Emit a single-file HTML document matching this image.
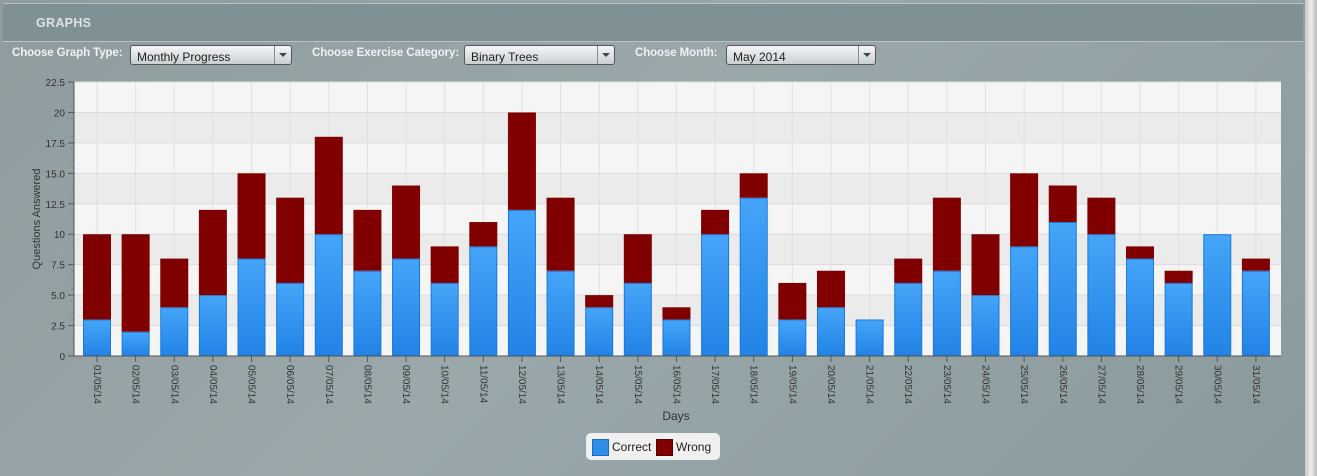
<!DOCTYPE html>
<html><head><meta charset="utf-8"><style>
body{margin:0;width:1317px;height:476px;overflow:hidden;background:linear-gradient(135deg,#8e9c9f 0%,#9aa8ab 45%,#8a9a9c 100%);font-family:"Liberation Sans",sans-serif;position:relative}
.hdr{position:absolute;left:3px;top:3px;width:1300px;height:37px;background:#7f9194;border-top:1px solid #b5c2c4;border-bottom:1px solid #b5c2c4}
.hdr span{position:absolute;left:33px;top:12px;color:#dde3e4;font-weight:bold;font-size:12.5px;letter-spacing:0.3px}
.lbl{position:absolute;top:47px;color:#eef3f4;font-weight:bold;font-size:11.5px;letter-spacing:-0.1px}
.cb{position:absolute;top:45px;height:20px;border:1px solid #555;border-radius:3px;background:linear-gradient(#f4f6f7,#c8d0d2);font-size:12px;box-sizing:border-box;padding:4px 0 0 6px;color:#222}
.cb i{position:absolute;right:0;top:0;width:16px;height:18px;border-left:1px solid #888;font-style:normal}
.cb i:after{content:"";position:absolute;left:4px;top:7px;border:4px solid transparent;border-top:4px solid #444}
.sb{position:absolute;left:1305px;top:0;width:12px;height:476px;background:linear-gradient(90deg,#c8c8c8,#eee,#bbb)}
.lg{position:absolute;left:586px;top:433px;width:134px;height:27px;background:#f0f0f0;border-radius:5px}
</style></head><body>
<div class="hdr"><span>GRAPHS</span></div>
<div class="lbl" style="left:12px">Choose Graph Type:</div>
<div class="cb" style="left:130px;width:162px">Monthly Progress<i></i></div>
<div class="lbl" style="left:312px">Choose Exercise Category:</div>
<div class="cb" style="left:464px;width:151px">Binary Trees<i></i></div>
<div class="lbl" style="left:635px">Choose Month:</div>
<div class="cb" style="left:726px;width:150px">May 2014<i></i></div>
<div class="sb"></div>
<svg id="ch" width="1317" height="476" style="position:absolute;left:0;top:0"></svg>
<div class="lg">
<div style="position:absolute;left:6px;top:6px;width:15px;height:15px;background:#2f8ee8;border:1px solid #1a6bc0"></div>
<div style="position:absolute;left:26px;top:7px;font-size:12px;color:#222">Correct</div>
<div style="position:absolute;left:70px;top:6px;width:15px;height:15px;background:#800000;border:1px solid #500"></div>
<div style="position:absolute;left:90px;top:7px;font-size:12px;color:#222">Wrong</div>
</div>
<script>
const days=[];for(let i=1;i<=31;i++)days.push(String(i).padStart(2,'0')+'/05/14');
const correct=[3,2,4,5,8,6,10,7,8,6,9,12,7,4,6,3,10,13,3,4,3,6,7,5,9,11,10,8,6,10,7];
const wrong=[7,8,4,7,7,7,8,5,6,3,2,8,6,1,4,1,2,2,3,3,0,2,6,5,6,3,3,1,1,0,1];
const yTicks=['0','2.5','5.0','7.5','10','12.5','15.0','17.5','20','22.5'];
const NS='http://www.w3.org/2000/svg',svg=document.getElementById('ch');
const L=74,R=1281,T=82,B=356,yMax=22.5,step=38.63,c0=97,bw=28;
const y=v=>B-(v/yMax)*(B-T), x=i=>c0+i*step;
function mk(t,a,p){const e=document.createElementNS(NS,t);for(const k in a)e.setAttribute(k,a[k]);(p||svg).appendChild(e);return e;}
for(let k=0;k<9;k++){const r=mk('rect',{x:L,y:y((k+1)*2.5),width:R-L,height:y(k*2.5)-y((k+1)*2.5),fill:k%2?'#ebebeb':'#f5f5f5'});
}
yTicks.forEach((t,k)=>{const v=k*2.5;
const g=mk('line',{x1:L,x2:R,y1:y(v),y2:y(v),stroke:'#dcdcdc'});
const tk=mk('line',{x1:L-6,x2:L,y1:y(v),y2:y(v),stroke:'#555'});
const tx=mk('text',{x:L-9,y:y(v)+4,'text-anchor':'end','font-size':10,fill:'#333'});tx.textContent=t;
if(k<9)for(let m=1;m<5;m++){const mv=v+m*0.5;const ml=mk('line',{x1:L-3,x2:L,y1:y(mv),y2:y(mv),stroke:'#888'});}
});
days.forEach((d,i)=>{const g=mk('line',{x1:x(i),x2:x(i),y1:T,y2:B,stroke:'#e0e0e0'});});
const defs=mk('defs',{});const gr=mk('linearGradient',{id:'bl',x1:0,y1:0,x2:0,y2:1},defs);
mk('stop',{offset:0,'stop-color':'#45a5f8'},gr);mk('stop',{offset:1,'stop-color':'#2283e6'},gr);
days.forEach((d,i)=>{
const c=mk('rect',{x:x(i)-bw/2+0.5,y:y(correct[i])+0.5,width:bw-1,height:y(0)-y(correct[i])-1,fill:'url(#bl)',stroke:'#1a78e0'});

if(wrong[i]>0){const w=mk('rect',{x:x(i)-bw/2,y:y(correct[i]+wrong[i]),width:bw,height:y(correct[i])-y(correct[i]+wrong[i]),fill:'#800000'});
}
const tk=mk('line',{x1:x(i),x2:x(i),y1:B,y2:B+6,stroke:'#555'});
const tx=mk('text',{x:0,y:0,'font-size':10,fill:'#333',transform:`translate(${x(i)-3},${B+9}) rotate(90)`});tx.textContent=d;

});
const ax=mk('path',{d:`M${L},${T}V${B}H${R}`,stroke:'#555',fill:'none'});
const xt=mk('text',{x:676,y:420,'text-anchor':'middle','font-size':12,fill:'#333'});xt.textContent='Days';
const yt=mk('text',{x:0,y:0,'text-anchor':'middle','font-size':11,fill:'#333',transform:'translate(40,219) rotate(-90)'});yt.textContent='Questions Answered';
</script>
</body></html>
